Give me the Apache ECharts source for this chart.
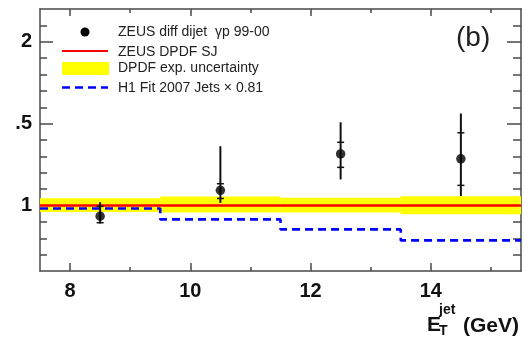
<!DOCTYPE html>
<html>
<head>
<meta charset="utf-8">
<style>
  html, body { margin: 0; padding: 0; background: #ffffff; }
  #chart { width: 524px; height: 337px; }
</style>
<script src="https://cdn.jsdelivr.net/npm/echarts@6/dist/echarts.min.js"></script>
</head>
<body>
<div id="chart"></div>
<script>
// E_T^jet bins and the predictions per bin
const binEdges   = [7.5, 9.5, 11.5, 13.5, 15.5];
const dpdfValues = [1, 1, 1, 1];
const dpdfLow    = [0.960, 0.957, 0.957, 0.946];
const dpdfHigh   = [1.045, 1.055, 1.047, 1.057];
const h1Values   = [0.982, 0.915, 0.854, 0.787];

// ZEUS measurement: bin centres, values, statistical and total errors
const etCenters  = [8.5, 10.5, 12.5, 14.5];
const zeusValues = [0.935, 1.093, 1.315, 1.285];
const statUp     = [0.060, 0.040, 0.071, 0.159];
const statDown   = [0.040, 0.050, 0.082, 0.162];
const totUp      = [0.085, 0.269, 0.193, 0.277];
const totDown    = [0.045, 0.077, 0.156, 0.227];

// Axis ticks and labels
const xMajor      = [8, 10, 12, 14];
const xMinor      = [9, 11, 13, 15];
const yMajor      = [1, 1.5, 2];
const yTickLabels = ['1', '.5', '2'];
const yMinor      = [0.7, 0.8, 0.9, 1.1, 1.2, 1.3, 1.4, 1.6, 1.7, 1.8, 1.9, 2.1];

const legendLabels = [
  'ZEUS diff dijet  \u03b3p 99-00',
  'ZEUS DPDF SJ',
  'DPDF exp. uncertainty',
  'H1 Fit 2007 Jets \u00d7 0.81'
];

const FONT = '"Liberation Sans", Arial, Helvetica, sans-serif';
const FRAME = '#4a4a4a';
const X_RANGE = [7.5, 15.5];
const Y_RANGE = [0.6, 2.2];

function stepData(values) {
  return binEdges.map((x, i) => [x, values[Math.min(i, values.length - 1)]]);
}

function xAxisDef(position, ticks, len, withLabels, withLine) {
  return {
    type: 'value', position: position, min: X_RANGE[0], max: X_RANGE[1],
    splitLine: { show: false },
    axisLine: { show: withLine, lineStyle: { color: FRAME, width: 1.5 } },
    axisTick: { show: true, inside: true, length: len, customValues: ticks,
                lineStyle: { color: FRAME, width: 1.5 } },
    axisLabel: withLabels ? {
      show: true, customValues: ticks, margin: 10,
      fontFamily: FONT, fontSize: 20, fontWeight: 'bold', color: '#111'
    } : { show: false }
  };
}

function yAxisDef(position, ticks, len, withLabels, withLine) {
  return {
    type: 'value', position: position, min: Y_RANGE[0], max: Y_RANGE[1],
    splitLine: { show: false },
    axisLine: { show: withLine, lineStyle: { color: FRAME, width: 1.5 } },
    axisTick: { show: true, inside: true, length: len, customValues: ticks,
                lineStyle: { color: FRAME, width: 1.5 } },
    axisLabel: withLabels ? {
      show: true, customValues: ticks, margin: 8,
      fontFamily: FONT, fontSize: 20, fontWeight: 'bold', color: '#111',
      formatter: function (v) {
        const i = yMajor.findIndex(t => Math.abs(t - v) < 1e-6);
        return i >= 0 ? yTickLabels[i] : '';
      }
    } : { show: false }
  };
}

const bandData = dpdfLow.map((lo, i) => [binEdges[i], binEdges[i + 1], lo, dpdfHigh[i]]);
const errData = etCenters.map((x, i) => [
  x, zeusValues[i],
  zeusValues[i] - totDown[i], zeusValues[i] + totUp[i],
  zeusValues[i] - statDown[i], zeusValues[i] + statUp[i]
]);

const chart = echarts.init(document.getElementById('chart'), null, { renderer: 'canvas' });

chart.setOption({
  animation: false,
  backgroundColor: '#ffffff',
  grid: { left: 40, right: 3, top: 9, bottom: 66 },
  xAxis: [
    xAxisDef('bottom', xMajor, 8, true, true),
    xAxisDef('bottom', xMinor, 4, false, false),
    xAxisDef('top', xMajor, 7, false, true),
    xAxisDef('top', xMinor, 4, false, false)
  ],
  yAxis: [
    yAxisDef('left', yMajor, 13, true, true),
    yAxisDef('left', yMinor, 7, false, false),
    yAxisDef('right', yMajor, 14, false, true),
    yAxisDef('right', yMinor, 8, false, false)
  ],
  series: [
    {
      // DPDF experimental uncertainty band, one rectangle per bin
      type: 'custom', name: 'band', z: 1, silent: true,
      data: bandData,
      renderItem: function (params, api) {
        const p0 = api.coord([api.value(0), api.value(3)]);
        const p1 = api.coord([api.value(1), api.value(2)]);
        return {
          type: 'rect',
          shape: { x: p0[0], y: p0[1], width: p1[0] - p0[0], height: p1[1] - p0[1] },
          style: { fill: '#ffff00' }
        };
      }
    },
    {
      type: 'line', name: 'ZEUS DPDF SJ', z: 2, step: 'end', symbol: 'none',
      data: stepData(dpdfValues),
      lineStyle: { color: '#ff0000', width: 2.6 }
    },
    {
      type: 'line', name: 'H1 Fit 2007 Jets', z: 3, step: 'end', symbol: 'none',
      data: stepData(h1Values),
      lineStyle: { color: '#0000ff', width: 2.6, type: [8, 5] }
    },
    {
      // total error bars with statistical error marks
      type: 'custom', name: 'errors', z: 4, silent: true,
      data: errData,
      renderItem: function (params, api) {
        const x = api.value(0);
        const top = api.coord([x, api.value(3)]);
        const bot = api.coord([x, api.value(2)]);
        const sLo = api.coord([x, api.value(4)]);
        const sHi = api.coord([x, api.value(5)]);
        const st = { stroke: '#111111', lineWidth: 2 };
        return {
          type: 'group',
          children: [
            { type: 'line', shape: { x1: top[0], y1: top[1], x2: bot[0], y2: bot[1] }, style: st },
            { type: 'line', shape: { x1: sHi[0] - 3.5, y1: sHi[1], x2: sHi[0] + 3.5, y2: sHi[1] },
              style: { stroke: '#111111', lineWidth: 1.5 } },
            { type: 'line', shape: { x1: sLo[0] - 3.5, y1: sLo[1], x2: sLo[0] + 3.5, y2: sLo[1] },
              style: { stroke: '#111111', lineWidth: 1.5 } }
          ]
        };
      }
    },
    {
      type: 'scatter', name: 'ZEUS diff dijet', z: 5, symbol: 'circle', symbolSize: 9.5,
      data: etCenters.map((x, i) => [x, zeusValues[i]]),
      itemStyle: { color: '#000000' }
    }
  ],
  graphic: [
    // legend
    { type: 'circle', shape: { cx: 85, cy: 32, r: 4.5 }, style: { fill: '#000' } },
    { type: 'line', shape: { x1: 62, y1: 51, x2: 108, y2: 51 }, style: { stroke: '#ff0000', lineWidth: 2 } },
    { type: 'rect', shape: { x: 62, y: 62, width: 47, height: 13 }, style: { fill: '#ffff00' } },
    { type: 'line', shape: { x1: 62, y1: 87.5, x2: 108, y2: 87.5 },
      style: { stroke: '#0000ff', lineWidth: 2.6, lineDash: [8, 5] } },
    { type: 'text', x: 118, y: 32, style: { text: legendLabels[0], font: '14px ' + FONT, fill: '#222', verticalAlign: 'middle' } },
    { type: 'text', x: 118, y: 52, style: { text: legendLabels[1], font: '14px ' + FONT, fill: '#222', verticalAlign: 'middle' } },
    { type: 'text', x: 118, y: 68.5, style: { text: legendLabels[2], font: '14px ' + FONT, fill: '#222', verticalAlign: 'middle' } },
    { type: 'text', x: 118, y: 88, style: { text: legendLabels[3], font: '14px ' + FONT, fill: '#222', verticalAlign: 'middle' } },
    // panel tag
    { type: 'text', x: 456, y: 38, style: { text: '(b)', font: '28px ' + FONT, fill: '#222', verticalAlign: 'middle' } },
    // x axis title: E_T^jet (GeV)
    { type: 'text', x: 427, y: 325, style: { text: 'E', font: 'bold 21px ' + FONT, fill: '#111', verticalAlign: 'middle' } },
    { type: 'text', x: 439, y: 310, style: { text: 'jet', font: 'bold 14px ' + FONT, fill: '#111', verticalAlign: 'middle' } },
    { type: 'text', x: 439, y: 331, style: { text: 'T', font: 'bold 14px ' + FONT, fill: '#111', verticalAlign: 'middle' } },
    { type: 'text', x: 463, y: 326, style: { text: '(GeV)', font: 'bold 21px ' + FONT, fill: '#111', verticalAlign: 'middle' } }
  ]
});
</script>
</body>
</html>
